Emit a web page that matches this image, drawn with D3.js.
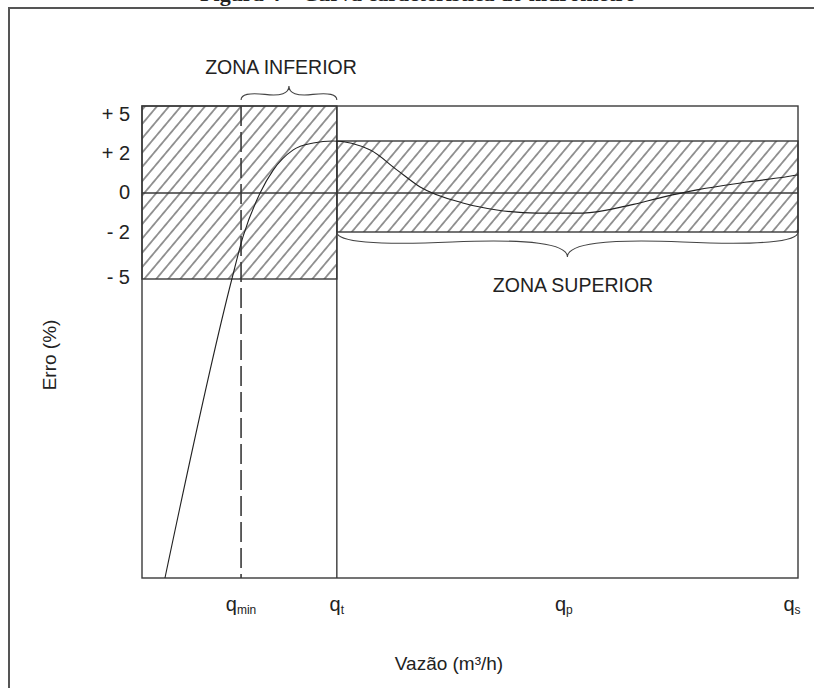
<!DOCTYPE html>
<html>
<meta charset="utf-8">
<head>
<script src="https://cdnjs.cloudflare.com/ajax/libs/d3/7.8.5/d3.min.js"></script>
<style>
  body { margin: 0; background: #fff; }
  text { font-family: "Liberation Sans", Arial, sans-serif; fill: #222; }
</style>
</head>
<body>
<script>
// flow positions in arbitrary units (0 = left edge, 100 = q_s)
const qNames = ["min", "t", "p", "s"];
const qValues = [15.1, 29.7, 64.3, 100];

// error axis (%)
const yTicks = [5, 2, 0, -2, -5];
const yTickLabels = ["+ 5", "+ 2", "0", "- 2", "- 5"];

// tolerance zones: lower (up to q_t) and upper (q_t to q_s)
const zoneNames = ["ZONA INFERIOR", "ZONA SUPERIOR"];
const zoneStart = [0, 29.7];
const zoneEnd = [29.7, 100];
const zoneTop = [5, 2];
const zoneBottom = [-5, -2];

// error curve of the meter
const curveFlow = [3.5, 13.7, 15.4, 18.0, 20.0, 23.0, 26.1, 29.1, 34.8, 38.9, 42.4, 48.9, 54.1, 60.2, 67.2, 74.4, 79.4, 84.6, 92.2, 99.8, 100];
const curveErr  = [-30, -5, -2.3, 0, 0.88, 1.65, 1.92, 2.0, 1.65, 0.88, 0.23, -0.51, -0.87, -1.03, -1.03, -0.62, -0.21, 0.12, 0.42, 0.69, 0.7];

const width = 814, height = 688;
const svg = d3.select("body").append("svg")
  .attr("width", width).attr("height", height);

// hatch pattern
const defs = svg.append("defs");
const hatch = defs.append("pattern")
  .attr("id", "hatch")
  .attr("patternUnits", "userSpaceOnUse")
  .attr("width", 9.2).attr("height", 9.2)
  .attr("patternTransform", "rotate(40)");
hatch.append("line")
  .attr("x1", 4.6).attr("y1", 0).attr("x2", 4.6).attr("y2", 9.2)
  .attr("stroke", "#333").attr("stroke-width", 1);

// figure frame + title (cut off at top)
svg.append("text")
  .attr("x", 418).attr("y", 1)
  .attr("text-anchor", "middle")
  .style("font-family", "'Liberation Serif', serif")
  .style("font-weight", "bold")
  .style("font-size", "22px")
  .text("Figura 4 – Curva característica do hidrômetro");
svg.append("path")
  .attr("d", "M9,688 L9,8 L814,8")
  .attr("fill", "none").attr("stroke", "#555").attr("stroke-width", 2);

// scales (schematic, so piecewise)
const x = d3.scaleLinear().domain([0, 100]).range([142, 798]);
const y = d3.scaleLinear().domain([5, 2, 0, -2, -5, -30]).range([106, 141, 193, 232, 279, 578]);
const yLabel = d3.scaleLinear().domain([5, 2, 0, -2, -5]).range([114, 153, 192, 232, 277]);

const lineColor = "#3a3a3a";

// hatched zones
svg.selectAll("rect.zone")
  .data(zoneNames)
  .enter().append("rect")
  .attr("class", "zone")
  .attr("x", (d, i) => x(zoneStart[i]))
  .attr("y", (d, i) => y(zoneTop[i]))
  .attr("width", (d, i) => x(zoneEnd[i]) - x(zoneStart[i]))
  .attr("height", (d, i) => y(zoneBottom[i]) - y(zoneTop[i]))
  .attr("fill", "url(#hatch)")
  .attr("stroke", lineColor).attr("stroke-width", 1.4);

// zero line
svg.append("line")
  .attr("x1", x(0)).attr("x2", x(100))
  .attr("y1", y(0)).attr("y2", y(0))
  .attr("stroke", lineColor).attr("stroke-width", 1.4);

// plot frame
svg.append("rect")
  .attr("x", x(0)).attr("y", y(5))
  .attr("width", x(100) - x(0)).attr("height", y(-30) - y(5))
  .attr("fill", "none").attr("stroke", lineColor).attr("stroke-width", 1.4);

// vertical lines at q_min (dashed) and q_t
svg.append("line")
  .attr("x1", x(qValues[0])).attr("x2", x(qValues[0]))
  .attr("y1", y(5)).attr("y2", y(-30))
  .attr("stroke", lineColor).attr("stroke-width", 1.6)
  .attr("stroke-dasharray", "20,6");
svg.append("line")
  .attr("x1", x(qValues[1])).attr("x2", x(qValues[1]))
  .attr("y1", y(5)).attr("y2", y(-30))
  .attr("stroke", lineColor).attr("stroke-width", 1.4);

// error curve
const curvePts = curveFlow.map((f, i) => [f, curveErr[i]]);
svg.append("path")
  .datum(curvePts)
  .attr("d", d3.line().x(d => x(d[0])).y(d => y(d[1])).curve(d3.curveMonotoneX))
  .attr("fill", "none").attr("stroke", "#222").attr("stroke-width", 1.1);

// y tick labels
svg.selectAll("text.ytick")
  .data(yTicks)
  .enter().append("text")
  .attr("class", "ytick")
  .attr("x", 130)
  .attr("y", d => yLabel(d))
  .attr("dy", "0.36em")
  .attr("text-anchor", "end")
  .style("font-size", "20px")
  .text((d, i) => yTickLabels[i]);

// x tick labels q with subscripts
const xl = svg.selectAll("text.xtick")
  .data(qNames)
  .enter().append("text")
  .attr("class", "xtick")
  .attr("x", (d, i) => x(qValues[i]) - (i === 3 ? 6 : 0))
  .attr("y", 611)
  .attr("text-anchor", "middle")
  .style("font-size", "20px");
xl.append("tspan").text("q");
xl.append("tspan").attr("dy", 3).style("font-size", "12px").text(d => d);

// axis titles
svg.append("text")
  .attr("x", 449).attr("y", 670)
  .attr("text-anchor", "middle")
  .style("font-size", "19px")
  .text("Vazão (m³/h)");
svg.append("text")
  .attr("transform", "translate(56,355) rotate(-90)")
  .attr("text-anchor", "middle")
  .style("font-size", "19px")
  .text("Erro (%)");

// curly braces
function bracePath(x1, y1, x2, y2, w, q) {
  let dx = x1 - x2, dy = y1 - y2;
  const len = Math.sqrt(dx * dx + dy * dy);
  dx /= len; dy /= len;
  const qx1 = x1 + q * w * dy, qy1 = y1 - q * w * dx;
  const qx2 = (x1 - .25 * len * dx) + (1 - q) * w * dy, qy2 = (y1 - .25 * len * dy) - (1 - q) * w * dx;
  const tx1 = (x1 - .5 * len * dx) + w * dy, ty1 = (y1 - .5 * len * dy) - w * dx;
  const qx3 = x2 + q * w * dy, qy3 = y2 - q * w * dx;
  const qx4 = (x1 - .75 * len * dx) + (1 - q) * w * dy, qy4 = (y1 - .75 * len * dy) - (1 - q) * w * dx;
  return `M${x1},${y1} Q${qx1},${qy1} ${qx2},${qy2} T${tx1},${ty1} M${x2},${y2} Q${qx3},${qy3} ${qx4},${qy4} T${tx1},${ty1}`;
}
// lower zone brace above plot (tip up)
svg.append("path")
  .attr("d", bracePath(x(zoneEnd[0]), 100, x(qValues[0]), 100, 14, 0.6))
  .attr("fill", "none").attr("stroke", "#444").attr("stroke-width", 1.1);
// upper zone brace below -2 line (tip down)
svg.append("path")
  .attr("d", bracePath(x(zoneStart[1]), y(-2), x(zoneEnd[1]), y(-2), 25, 0.6))
  .attr("fill", "none").attr("stroke", "#444").attr("stroke-width", 1.1);

svg.append("text")
  .attr("x", 281).attr("y", 74)
  .attr("text-anchor", "middle")
  .style("font-size", "19.5px")
  .text(zoneNames[0]);
svg.append("text")
  .attr("x", 573).attr("y", 292)
  .attr("text-anchor", "middle")
  .style("font-size", "19.5px")
  .text(zoneNames[1]);
</script>
</body>
</html>
